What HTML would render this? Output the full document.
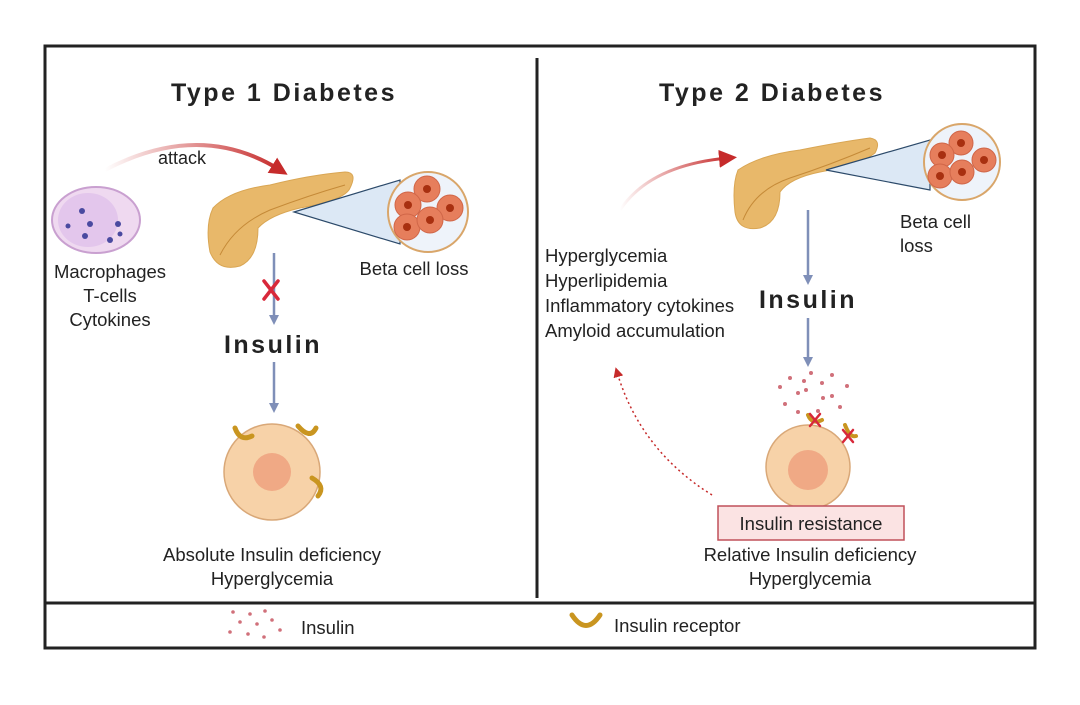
<!DOCTYPE html>
<html><head><meta charset="utf-8"><style>
body{margin:0;background:#fff;}
svg text{font-family:"Liberation Sans",sans-serif;fill:#222;}
</style></head><body>
<svg width="1080" height="700" viewBox="0 0 1080 700" xmlns="http://www.w3.org/2000/svg">
<defs>
<marker id="bl" markerWidth="10" markerHeight="10" refX="5" refY="5" orient="auto" markerUnits="userSpaceOnUse"><path d="M0,0 L10,5 L0,10z" fill="#7f8fb8"/></marker>
<marker id="rd" markerWidth="18" markerHeight="18" refX="9" refY="9" orient="auto" markerUnits="userSpaceOnUse"><path d="M0,0 L18,9 L0,18z" fill="#c62b2b"/></marker>
<marker id="rs" markerWidth="10" markerHeight="10" refX="5" refY="5" orient="auto" markerUnits="userSpaceOnUse"><path d="M0,0 L10,5 L0,10z" fill="#c62b2b"/></marker>
<linearGradient id="ga" x1="0" x2="1"><stop offset="0" stop-color="#c62b2b" stop-opacity="0"/><stop offset="1" stop-color="#c62b2b"/></linearGradient>
</defs>
<rect x="45" y="46" width="990" height="602" fill="none" stroke="#222" stroke-width="3"/>
<line x1="537" y1="58" x2="537" y2="598" stroke="#222" stroke-width="3"/>
<line x1="45" y1="603" x2="1035" y2="603" stroke="#222" stroke-width="3"/>

<text x="284" y="101" font-size="25" font-weight="bold" text-anchor="middle" letter-spacing="2.5">Type 1 Diabetes</text>
<text x="772" y="101" font-size="25" font-weight="bold" text-anchor="middle" letter-spacing="2.5">Type 2 Diabetes</text>

<!-- T1 attack arrow -->
<path d="M105,170 Q200,120 280,170" fill="none" stroke="url(#ga)" stroke-width="4" marker-end="url(#rd)"/>
<text x="158" y="164" font-size="18">attack</text>
<!-- macrophage -->
<ellipse cx="96" cy="220" rx="44" ry="33" fill="#efd9f0" stroke="#c9a0d0" stroke-width="2"/>
<ellipse cx="88" cy="220" rx="30" ry="27" fill="#e3c6ec"/>
<g fill="#4a4aa0"><circle cx="82" cy="211" r="3"/><circle cx="90" cy="224" r="3"/><circle cx="68" cy="226" r="2.5"/><circle cx="85" cy="236" r="3"/><circle cx="118" cy="224" r="3"/><circle cx="110" cy="240" r="3"/><circle cx="120" cy="234" r="2.5"/></g>
<text x="110" y="278" font-size="18.5" text-anchor="middle">Macrophages</text>
<text x="110" y="302" font-size="18.5" text-anchor="middle">T-cells</text>
<text x="110" y="326" font-size="18.5" text-anchor="middle">Cytokines</text>

<!-- T1 pancreas -->
<path d="M213,208 Q230,190 270,185 Q310,175 345,172 Q358,172 350,188 Q345,200 300,208 Q270,215 258,228 Q258,258 240,266 Q218,272 210,252 Q205,225 213,208z" fill="#e8b86a" stroke="#d9a654"/>
<path d="M220,255 Q235,225 270,210 Q310,195 345,185" fill="none" stroke="#c58a38" stroke-width="1"/>
<path d="M294,212 L400,180 L400,244 Z" fill="#dce8f5" stroke="#2c4a6a" stroke-width="1.2"/>
<circle cx="428" cy="212" r="40" fill="#eef3fa" stroke="#d9a66a" stroke-width="2"/>
<g fill="#e67e5c" stroke="#d06648"><circle cx="427" cy="189" r="13"/><circle cx="408" cy="205" r="13"/><circle cx="450" cy="208" r="13"/><circle cx="407" cy="227" r="13"/><circle cx="430" cy="220" r="13"/></g>
<g fill="#a83010"><circle cx="427" cy="189" r="4"/><circle cx="408" cy="205" r="4"/><circle cx="450" cy="208" r="4"/><circle cx="407" cy="227" r="4"/><circle cx="430" cy="220" r="4"/></g>
<text x="414" y="275" font-size="18.5" text-anchor="middle">Beta cell loss</text>

<line x1="274" y1="253" x2="274" y2="320" stroke="#7f8fb8" stroke-width="2.5" marker-end="url(#bl)"/>
<g stroke="#d8283a" stroke-width="3.5" stroke-linecap="round"><line x1="264" y1="281" x2="278" y2="299"/><line x1="278" y1="281" x2="264" y2="299"/></g>
<text x="273" y="353" font-size="25" font-weight="bold" text-anchor="middle" letter-spacing="2.5">Insulin</text>
<line x1="274" y1="362" x2="274" y2="408" stroke="#7f8fb8" stroke-width="2.5" marker-end="url(#bl)"/>
<circle cx="272" cy="472" r="48" fill="#f7d2a8" stroke="#d9a878" stroke-width="1.5"/>
<circle cx="272" cy="472" r="19" fill="#f0a985"/>
<g fill="none" stroke="#c99520" stroke-width="5" stroke-linecap="round">
<path d="M235,428 Q240,442 252,436"/><path d="M298,426 Q310,440 316,428"/><path d="M312,478 Q326,486 318,496"/></g>
<text x="272" y="561" font-size="18.5" text-anchor="middle">Absolute Insulin deficiency</text>
<text x="272" y="585" font-size="18.5" text-anchor="middle">Hyperglycemia</text>

<!-- T2 -->
<path d="M620,210 Q650,165 728,158" fill="none" stroke="url(#ga)" stroke-width="3" marker-end="url(#rd)"/>
<path d="M738,170 Q760,155 800,150 Q840,142 870,138 Q882,140 875,153 Q860,165 820,172 Q790,178 780,192 Q780,222 760,228 Q738,232 735,212 Q732,185 738,170z" fill="#e8b86a" stroke="#d9a654"/>
<path d="M743,220 Q755,190 790,178 Q830,165 870,148" fill="none" stroke="#c58a38" stroke-width="1"/>
<path d="M826,170 L930,140 L930,190 Z" fill="#dce8f5" stroke="#2c4a6a" stroke-width="1.2"/>
<circle cx="962" cy="162" r="38" fill="#eef3fa" stroke="#d9a66a" stroke-width="2"/>
<g fill="#e67e5c" stroke="#d06648"><circle cx="961" cy="143" r="12"/><circle cx="942" cy="155" r="12"/><circle cx="984" cy="160" r="12"/><circle cx="940" cy="176" r="12"/><circle cx="962" cy="172" r="12"/></g>
<g fill="#a83010"><circle cx="961" cy="143" r="4"/><circle cx="942" cy="155" r="4"/><circle cx="984" cy="160" r="4"/><circle cx="940" cy="176" r="4"/><circle cx="962" cy="172" r="4"/></g>
<text x="900" y="228" font-size="18.5">Beta cell</text>
<text x="900" y="252" font-size="18.5">loss</text>

<g font-size="18.5"><text x="545" y="262">Hyperglycemia</text><text x="545" y="287">Hyperlipidemia</text><text x="545" y="312">Inflammatory cytokines</text><text x="545" y="337">Amyloid accumulation</text></g>
<line x1="808" y1="210" x2="808" y2="280" stroke="#7f8fb8" stroke-width="2.5" marker-end="url(#bl)"/>
<text x="808" y="308" font-size="25" font-weight="bold" text-anchor="middle" letter-spacing="2.5">Insulin</text>
<line x1="808" y1="318" x2="808" y2="362" stroke="#7f8fb8" stroke-width="2.5" marker-end="url(#bl)"/>
<g fill="#d0707a"><circle cx="790" cy="378" r="2"/><circle cx="811" cy="373" r="2"/><circle cx="832" cy="375" r="2"/><circle cx="780" cy="387" r="2"/><circle cx="804" cy="381" r="2"/><circle cx="822" cy="383" r="2"/><circle cx="847" cy="386" r="2"/><circle cx="798" cy="393" r="2"/><circle cx="806" cy="390" r="2"/><circle cx="823" cy="398" r="2"/><circle cx="832" cy="396" r="2"/><circle cx="785" cy="404" r="2"/><circle cx="840" cy="407" r="2"/><circle cx="798" cy="412" r="2"/><circle cx="818" cy="411" r="2"/></g>
<circle cx="808" cy="467" r="42" fill="#f7d2a8" stroke="#d9a878" stroke-width="1.5"/>
<circle cx="808" cy="470" r="20" fill="#f0a985"/>
<g fill="none" stroke="#c99520" stroke-width="4" stroke-linecap="round"><path d="M808,415 Q812,425 822,420"/><path d="M845,425 Q850,438 856,436"/></g>
<g stroke="#d8283a" stroke-width="2.5" stroke-linecap="round"><line x1="810" y1="414" x2="820" y2="426"/><line x1="820" y1="414" x2="810" y2="426"/><line x1="843" y1="430" x2="853" y2="442"/><line x1="853" y1="430" x2="843" y2="442"/></g>
<path d="M712,495 Q640,450 617,372" fill="none" stroke="#c62b2b" stroke-width="1.5" stroke-dasharray="2,3" marker-end="url(#rs)"/>
<rect x="718" y="506" width="186" height="34" fill="#fbe3e3" stroke="#c0505a" stroke-width="1.5"/>
<text x="811" y="530" font-size="18.5" text-anchor="middle">Insulin resistance</text>
<text x="810" y="561" font-size="18.5" text-anchor="middle">Relative Insulin deficiency</text>
<text x="810" y="585" font-size="18.5" text-anchor="middle">Hyperglycemia</text>

<!-- legend -->
<g fill="#d0707a"><circle cx="233" cy="612" r="1.8"/><circle cx="250" cy="614" r="1.8"/><circle cx="265" cy="611" r="1.8"/><circle cx="240" cy="622" r="1.8"/><circle cx="257" cy="624" r="1.8"/><circle cx="272" cy="620" r="1.8"/><circle cx="230" cy="632" r="1.8"/><circle cx="248" cy="634" r="1.8"/><circle cx="264" cy="637" r="1.8"/><circle cx="280" cy="630" r="1.8"/></g>
<text x="301" y="634" font-size="18.5">Insulin</text>
<path d="M572,615 Q586,636 600,615" fill="none" stroke="#c99520" stroke-width="5" stroke-linecap="round"/>
<text x="614" y="632" font-size="18.5">Insulin receptor</text>
</svg>
</body></html>
